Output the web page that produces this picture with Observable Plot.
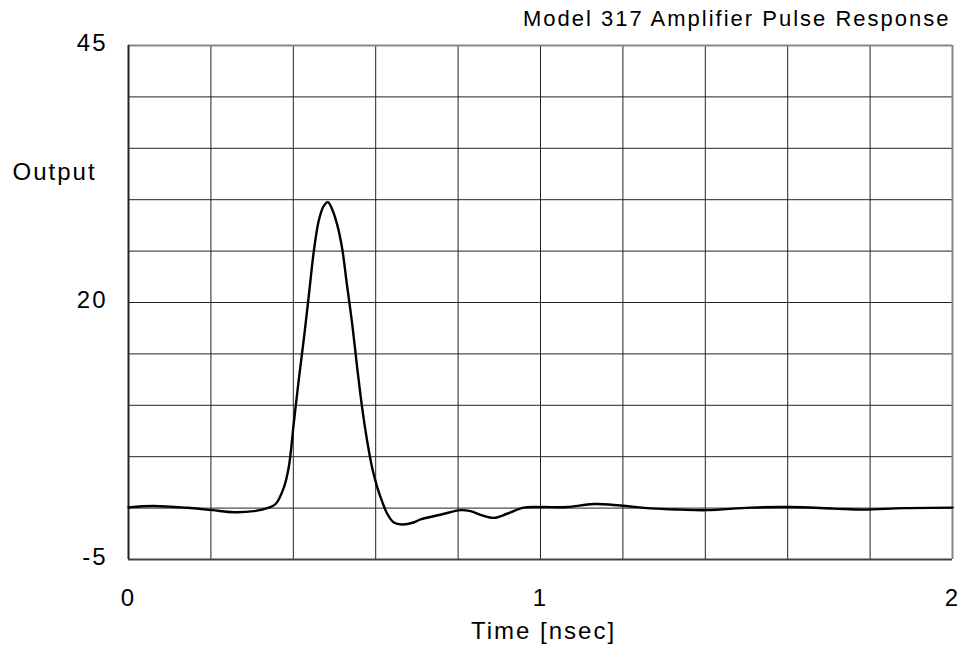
<!DOCTYPE html>
<html>
<head>
<meta charset="utf-8">
<script src="https://cdn.jsdelivr.net/npm/d3@7"></script>
<script src="https://cdn.jsdelivr.net/npm/@observablehq/plot@0.6"></script>
<style>
  html, body { margin: 0; padding: 0; background: #fff; }
  #chart svg { display: block; }
</style>
</head>
<body>
<div id="chart"></div>
<script>
const title = "Model 317 Amplifier Pulse Response";
const xLabel = "Time [nsec]";
const yLabel = "Output";
const xTicks = [0, 1, 2];
const yTicks = [-5, 20, 45];
const xGrid = [0.2, 0.4, 0.6, 0.8, 1.0, 1.2, 1.4, 1.6, 1.8];
const yGrid = [0, 5, 10, 15, 20, 25, 30, 35, 40];

const time = [0.000, 0.061, 0.142, 0.203, 0.256, 0.304, 0.337, 0.357, 0.377, 0.389,
  0.401, 0.413, 0.426, 0.438, 0.450, 0.462, 0.474, 0.484, 0.494, 0.506,
  0.518, 0.530, 0.543, 0.555, 0.567, 0.579, 0.591, 0.604, 0.616, 0.628,
  0.644, 0.664, 0.692, 0.709, 0.757, 0.806, 0.830, 0.858, 0.887, 0.919,
  0.959, 1.004, 1.064, 1.129, 1.194, 1.267, 1.338, 1.404, 1.510, 1.603,
  1.712, 1.784, 1.882, 2.000];
const output = [0.07, 0.2, 0.03, -0.2, -0.4, -0.3, 0.0, 0.4, 2.0, 4.0,
  8.2, 12.4, 16.6, 20.8, 25.05, 28.0, 29.4, 29.76, 29.1, 27.65,
  25.4, 21.8, 17.9, 13.7, 9.8, 6.6, 4.0, 2.0, 0.6, -0.55,
  -1.4, -1.6, -1.4, -1.1, -0.65, -0.2, -0.3, -0.7, -0.95, -0.55,
  0.05, 0.1, 0.1, 0.4, 0.25, -0.03, -0.15, -0.2, 0.05, 0.1,
  -0.05, -0.15, 0.0, 0.05];

const data = time.map((t, i) => ({t, v: output[i]}));
const font = "'Liberation Sans', Arial, sans-serif";

const chart = Plot.plot({
  width: 966,
  height: 661,
  marginLeft: 128,
  marginRight: 14,
  marginTop: 45,
  marginBottom: 102,
  style: {fontFamily: font, fontSize: "24px", color: "#000", background: "#fff", letterSpacing: "2px"},
  x: {domain: [0, 2]},
  y: {domain: [-5, 45]},
  marks: [
    Plot.ruleX(xGrid, {stroke: "#222", strokeWidth: 1}),
    Plot.ruleY(yGrid, {stroke: "#222", strokeWidth: 1}),
    Plot.ruleY([45], {stroke: "#888", strokeWidth: 2}),
    Plot.ruleY([-5], {stroke: "#444", strokeWidth: 2}),
    Plot.ruleX([0], {stroke: "#222", strokeWidth: 2}),
    Plot.ruleX([2], {stroke: "#888", strokeWidth: 2}),
    Plot.axisX(xTicks, {tickSize: 0, tickPadding: 29, fontSize: 24, tickFormat: d => String(d),
      label: null, fill: "#000"}),
    Plot.axisY(yTicks, {tickSize: 0, tickPadding: 21, dy: -2, fontSize: 24, tickFormat: d => String(d),
      label: null, fill: "#000"}),
    Plot.line(data, {x: "t", y: "v", curve: "catmull-rom", stroke: "#000", strokeWidth: 2.4}),
    Plot.text([title], {frameAnchor: "top-right", lineAnchor: "middle", dx: -2, dy: -27, text: d => d,
      fontSize: 22, textAnchor: "end", fill: "#000"}),
    Plot.text([yLabel], {frameAnchor: "top-left", lineAnchor: "middle", dx: -116, dy: 127, text: d => d,
      fontSize: 24, textAnchor: "start", fill: "#000", letterSpacing: "2.6px"}),
    Plot.text([xLabel], {frameAnchor: "bottom", lineAnchor: "middle", dx: 3, dy: 72, text: d => d,
      fontSize: 24, fill: "#000"})
  ]
});
document.getElementById("chart").appendChild(chart);
</script>
</body>
</html>
